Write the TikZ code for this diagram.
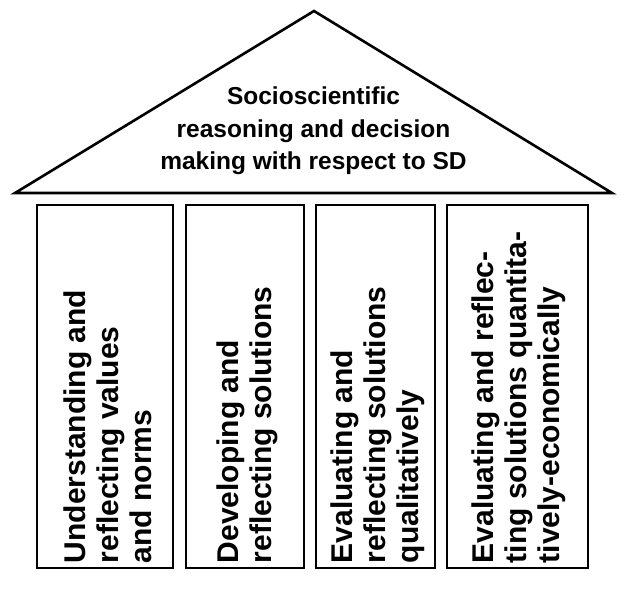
\documentclass[tikz,border=0pt]{standalone}
\usepackage{fontspec}
\setmainfont{Liberation Sans}
\begin{document}
\begin{tikzpicture}[x=1pt,y=-1pt,line join=miter,
  outline/.style={draw=black,line width=2.6pt},
  pillarbox/.style={outline,rectangle,inner sep=0pt,minimum height=363pt},
  pillartext/.style={rotate=90,anchor=west,align=left,inner sep=0pt,
    font=\fontsize{30}{33}\selectfont\bfseries},
  rooftext/.style={align=center,inner sep=0pt,
    font=\fontsize{24.5}{32.5}\selectfont\bfseries}]
\useasboundingbox (0,0) rectangle (627,589);
% roof
\coordinate (apex) at (314,11);
\coordinate (rl) at (15,193);
\coordinate (rr) at (612,193);
\draw[outline] (rl) -- (apex) -- (rr) -- cycle;
\node[rooftext] (roof) at (313.5,131) {Socioscientific\\reasoning and decision\\making with respect to SD};
% pillars
\node[pillarbox,minimum width=136pt] (p1) at (105,386.5) {};
\node[pillarbox,minimum width=118pt] (p2) at (245,386.5) {};
\node[pillarbox,minimum width=119pt] (p3) at (375.5,386.5) {};
\node[pillarbox,minimum width=141pt] (p4) at (517.5,386.5) {};
\node[pillartext] (t1) at ([xshift=3pt,yshift=6pt]p1.south) {Understanding and\\reflecting values\\and norms};
\node[pillartext] (t2) at ([xshift=2pt,yshift=6pt]p2.south) {Developing and\\reflecting solutions};
\node[pillartext] (t3) at ([xshift=2pt,yshift=6pt]p3.south) {Evaluating and\\reflecting solutions\\qualitatively};
\node[pillartext] (t4) at ([xshift=1pt,yshift=6pt]p4.south) {Evaluating and reflec-\\ting solutions quantita-\\tively-economically};
\end{tikzpicture}
\end{document}
